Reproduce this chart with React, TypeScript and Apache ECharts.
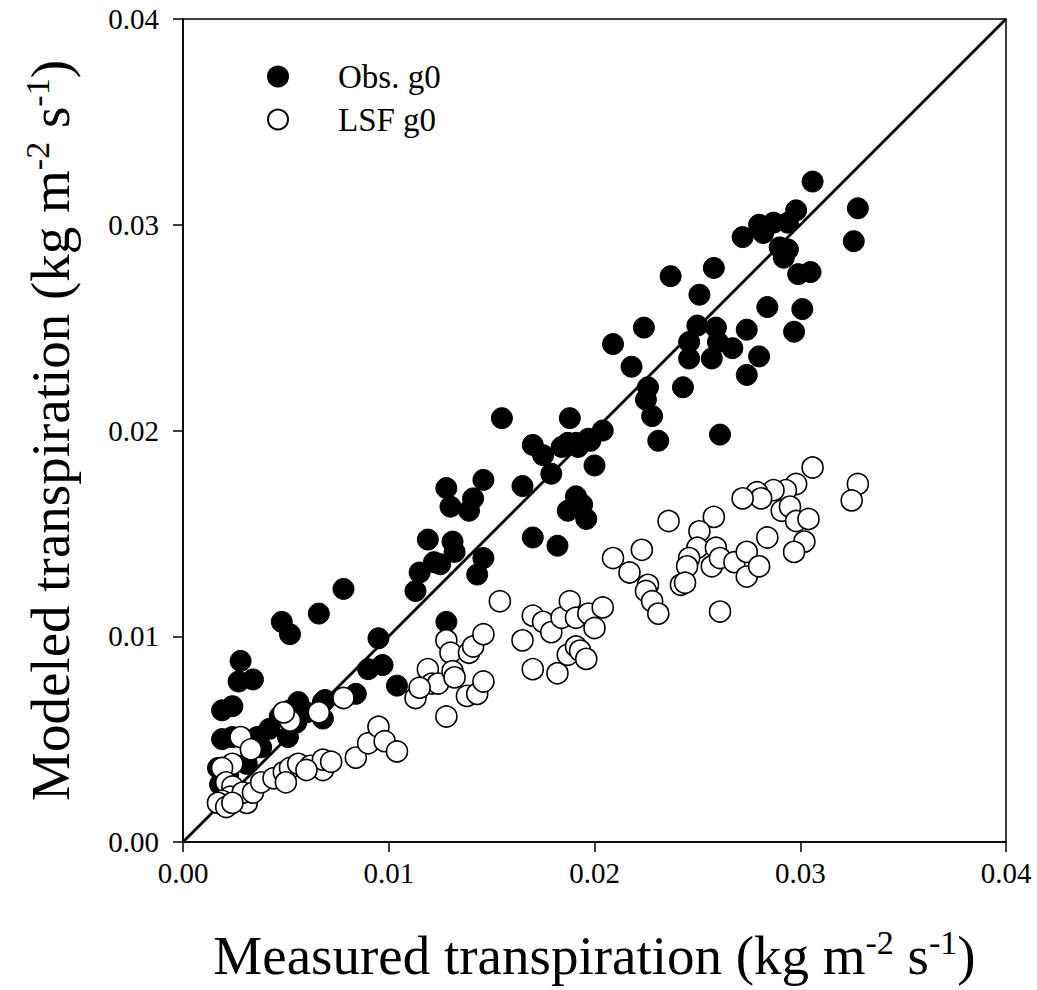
import React, { useEffect, useRef } from "react";
import * as echarts from "echarts";

// Tick values for both axes
const tickValues = [0.0, 0.01, 0.02, 0.03, 0.04];
const seriesNames = ["Obs. g0", "LSF g0"];

// Obs. g0 (filled) [measured, modeled]
const obsX = [
  0.0306, 0.0328, 0.0326, 0.0298, 0.0294, 0.0287, 0.0280, 0.0272, 0.0282, 0.0290,
  0.0294, 0.0292, 0.0299, 0.0305, 0.0258, 0.0237, 0.0251, 0.0284, 0.0301, 0.0297,
  0.0224, 0.0209, 0.0218, 0.0250, 0.0259, 0.0246, 0.0260, 0.0267, 0.0246, 0.0257,
  0.0274, 0.0280, 0.0274, 0.0226, 0.0225, 0.0243, 0.0228, 0.0261, 0.0231, 0.0188,
  0.0204, 0.0197, 0.0187, 0.0191, 0.0155, 0.0170, 0.0175, 0.0184, 0.0192, 0.0198,
  0.0200, 0.0179, 0.0165, 0.0146, 0.0128, 0.0141, 0.0130, 0.0139, 0.0191, 0.0194,
  0.0187, 0.0196, 0.0170, 0.0182, 0.0119, 0.0131, 0.0132, 0.0122, 0.0146, 0.0115,
  0.0143, 0.0078, 0.0066, 0.0048, 0.0052, 0.0028, 0.0027, 0.0034, 0.0019, 0.0024,
  0.0113, 0.0095, 0.0090, 0.0097, 0.0104, 0.0128, 0.0084, 0.0069, 0.0056, 0.0052,
  0.0047, 0.0042, 0.0055, 0.0060, 0.0068, 0.0068, 0.0051, 0.0019, 0.0024, 0.0036,
  0.0033, 0.0017, 0.0031, 0.0038, 0.0018, 0.0022, 0.0125,
];
const obsY = [
  0.0321, 0.0308, 0.0292, 0.0307, 0.0301, 0.0301, 0.0300, 0.0294, 0.0296, 0.0289,
  0.0288, 0.0284, 0.0276, 0.0277, 0.0279, 0.0275, 0.0266, 0.0260, 0.0259, 0.0248,
  0.0250, 0.0242, 0.0231, 0.0251, 0.0250, 0.0243, 0.0243, 0.0240, 0.0235, 0.0235,
  0.0249, 0.0236, 0.0227, 0.0221, 0.0215, 0.0221, 0.0207, 0.0198, 0.0195, 0.0206,
  0.0200, 0.0196, 0.0194, 0.0194, 0.0206, 0.0193, 0.0188, 0.0192, 0.0192, 0.0195,
  0.0183, 0.0179, 0.0173, 0.0176, 0.0172, 0.0167, 0.0163, 0.0161, 0.0168, 0.0164,
  0.0161, 0.0157, 0.0148, 0.0144, 0.0147, 0.0146, 0.0141, 0.0136, 0.0138, 0.0131,
  0.0130, 0.0123, 0.0111, 0.0107, 0.0101, 0.0088, 0.0078, 0.0079, 0.0064, 0.0066,
  0.0122, 0.0099, 0.0084, 0.0086, 0.0076, 0.0107, 0.0072, 0.0069, 0.0068, 0.0064,
  0.0061, 0.0055, 0.0058, 0.0063, 0.0068, 0.0060, 0.0051, 0.0050, 0.0051, 0.0051,
  0.0045, 0.0036, 0.0038, 0.0046, 0.0028, 0.0033, 0.0135,
];

// LSF g0 (open) [measured, modeled]
const lsfX = [
  0.0328, 0.0325, 0.0306, 0.0298, 0.0293, 0.0287, 0.0279, 0.0281, 0.0272, 0.0291,
  0.0295, 0.0298, 0.0304, 0.0302, 0.0297, 0.0284, 0.0258, 0.0236, 0.0251, 0.0223,
  0.0209, 0.0217, 0.0226, 0.0225, 0.0228, 0.0231, 0.0261, 0.0250, 0.0246, 0.0245,
  0.0242, 0.0244, 0.0259, 0.0257, 0.0261, 0.0268, 0.0274, 0.0274, 0.0280, 0.0154,
  0.0128, 0.0130, 0.0139, 0.0141, 0.0146, 0.0119, 0.0121, 0.0124, 0.0131, 0.0132,
  0.0113, 0.0115, 0.0138, 0.0143, 0.0146, 0.0128, 0.0165, 0.0170, 0.0175, 0.0179,
  0.0184, 0.0188, 0.0191, 0.0197, 0.0204, 0.0200, 0.0170, 0.0182, 0.0187, 0.0191,
  0.0193, 0.0196, 0.0078, 0.0066, 0.0052, 0.0049, 0.0028, 0.0033, 0.0024, 0.0019,
  0.0021, 0.0024, 0.0023, 0.0019, 0.0017, 0.0021, 0.0031, 0.0029, 0.0034, 0.0038,
  0.0044, 0.0049, 0.0052, 0.0056, 0.0062, 0.0068, 0.0068, 0.0072, 0.0084, 0.0090,
  0.0095, 0.0098, 0.0104, 0.0050, 0.0060, 0.0024,
];
const lsfY = [
  0.0174, 0.0166, 0.0182, 0.0174, 0.0171, 0.0171, 0.0170, 0.0167, 0.0167, 0.0161,
  0.0163, 0.0156, 0.0157, 0.0146, 0.0141, 0.0148, 0.0158, 0.0156, 0.0151, 0.0142,
  0.0138, 0.0131, 0.0125, 0.0122, 0.0117, 0.0111, 0.0112, 0.0143, 0.0138, 0.0134,
  0.0125, 0.0126, 0.0143, 0.0134, 0.0138, 0.0136, 0.0141, 0.0129, 0.0134, 0.0117,
  0.0098, 0.0092, 0.0092, 0.0095, 0.0101, 0.0084, 0.0077, 0.0077, 0.0083, 0.0080,
  0.0070, 0.0075, 0.0071, 0.0072, 0.0078, 0.0061, 0.0098, 0.0110, 0.0107, 0.0102,
  0.0109, 0.0117, 0.0109, 0.0111, 0.0114, 0.0104, 0.0084, 0.0082, 0.0091, 0.0095,
  0.0093, 0.0089, 0.0070, 0.0063, 0.0059, 0.0063, 0.0051, 0.0045, 0.0038, 0.0036,
  0.0029, 0.0027, 0.0022, 0.0020, 0.0019, 0.0017, 0.0019, 0.0024, 0.0024, 0.0029,
  0.0031, 0.0034, 0.0036, 0.0038, 0.0037, 0.0035, 0.0040, 0.0039, 0.0041, 0.0048,
  0.0056, 0.0049, 0.0044, 0.0029, 0.0035, 0.0019,
];

const oneToOne = [0, 0.04];

const FONT = "'Liberation Serif', 'Times New Roman', serif";

export default function App() {
  const ref = useRef<HTMLDivElement>(null);

  useEffect(() => {
    if (!ref.current) return;
    const chart = echarts.init(ref.current, undefined, { renderer: "svg" });
    const obsData = obsX.map((x, i) => [x, obsY[i]]);
    const lsfData = lsfX.map((x, i) => [x, lsfY[i]]);
    const lineData = oneToOne.map((v) => [v, v]);

    const titleRich = {
      n: { fontSize: 55, fontFamily: FONT, color: "#000", lineHeight: 60, verticalAlign: "middle" },
      s: { fontSize: 34, fontFamily: FONT, color: "#000", lineHeight: 60, verticalAlign: "top" },
    };

    const axisCommon = {
      type: "value",
      min: tickValues[0],
      max: tickValues[tickValues.length - 1],
      interval: 0.01,
      splitLine: { show: false },
      axisLine: { show: true, onZero: false, lineStyle: { color: "#000", width: 1.5 } },
      axisTick: { show: true, inside: false, length: 10, lineStyle: { color: "#000", width: 1.5 } },
    };

    chart.setOption({
      animation: false,
      backgroundColor: "#fff",
      grid: {
        left: 183,
        top: 19,
        width: 823,
        height: 823,
        show: true,
        borderColor: "#000",
        borderWidth: 1.5,
        backgroundColor: "transparent",
      },
      legend: {
        data: seriesNames,
        orient: "vertical",
        left: 262,
        top: 55,
        itemWidth: 20,
        itemHeight: 20,
        itemGap: 10,
        selectedMode: false,
        textStyle: {
          fontFamily: FONT,
          fontSize: 33,
          color: "#000",
          lineHeight: 30,
          padding: [0, 0, 0, 45],
        },
      },
      xAxis: {
        ...axisCommon,
        axisLabel: {
          margin: 16,
          fontFamily: FONT,
          fontSize: 29,
          color: "#000",
          formatter: (v: number) => v.toFixed(2),
        },
        name: "{n|Measured transpiration (kg m}{s|-2}{n| s}{s|-1}{n|)}",
        nameLocation: "middle",
        nameGap: 83,
        nameTextStyle: { rich: titleRich },
      },
      yAxis: {
        ...axisCommon,
        axisLabel: {
          margin: 24,
          fontFamily: FONT,
          fontSize: 29,
          color: "#000",
          formatter: (v: number) => v.toFixed(2),
        },
        name: "{n|Modeled transpiration (kg m}{s|-2}{n| s}{s|-1}{n|)}",
        nameLocation: "middle",
        nameRotate: 90,
        nameGap: 103,
        nameTextStyle: { rich: titleRich },
      },
      series: [
        {
          type: "line",
          data: lineData,
          symbol: "none",
          lineStyle: { color: "#000", width: 2.8 },
          silent: true,
          z: 1,
        },
        {
          name: seriesNames[0],
          type: "scatter",
          data: obsData,
          symbol: "circle",
          symbolSize: 21,
          itemStyle: { color: "#000", borderColor: "#000", borderWidth: 1, opacity: 1 },
          z: 2,
        },
        {
          name: seriesNames[1],
          type: "scatter",
          data: lsfData,
          symbol: "circle",
          symbolSize: 21,
          itemStyle: { color: "#fff", borderColor: "#000", borderWidth: 1.6, opacity: 1 },
          z: 3,
        },
      ],
    });

    return () => chart.dispose();
  }, []);

  return (
    <div
      ref={ref}
      style={{ position: "fixed", left: 0, top: 0, width: 1037, height: 990, background: "#fff" }}
    />
  );
}
